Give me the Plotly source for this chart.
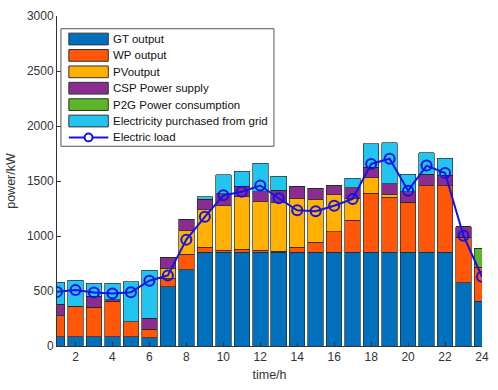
import plotly.graph_objects as go

hours = list(range(1, 25))
gt = [85, 85, 85, 85, 85, 75, 537, 691, 854, 854, 854, 854, 854, 854, 854, 854, 854, 854, 854, 854, 854, 854, 575, 405]
wp = [191, 277, 268, 324, 135, 79, 80, 142, 42, 15, 24, 15, 6, 42, 89, 184, 291, 534, 498, 451, 605, 605, 413, 309]
pv = [0, 0, 0, 0, 0, 0, 89, 214, 344, 406, 480, 445, 445, 447, 392, 335, 198, 142, 21, 0, 0, 0, 0, 0]
csp = [104, 0, 98, 12, 0, 98, 98, 104, 95, 107, 95, 89, 112, 104, 97, 86, 95, 95, 104, 98, 101, 92, 95, 0]
p2g = [0] * 23 + [170]
grid = [198, 237, 118, 148, 364, 438, 0, 0, 23, 175, 137, 258, 125, 0, 0, 0, 89, 214, 371, 157, 199, 157, 0, 0]
load = [492, 510, 486, 478, 489, 593, 641, 967, 1174, 1370, 1403, 1459, 1343, 1234, 1225, 1275, 1337, 1655, 1702, 1412, 1640, 1572, 1002, 629]

series = [
    ("GT output", gt, "#0070BC"),
    ("WP output", wp, "#FF5608"),
    ("PVoutput", pv, "#FFB000"),
    ("CSP Power supply", csp, "#8A2D8E"),
    ("P2G Power consumption", p2g, "#5DB52A"),
    ("Electricity purchased from grid", grid, "#22C4F0"),
]
load_name = "Electric load"
load_color = "#1414E6"

W, H = 498, 390
ML, MR, MT, MB = 57, 10, 9, 44
PW, PH = W - ML - MR, H - MT - MB


def px(xp):
    return (xp - ML) / PW


def py(yp):
    return (H - MB - yp) / PH


fig = go.Figure()
for name, vals, col in series:
    fig.add_trace(go.Bar(
        x=hours, y=vals, name=name, width=0.84,
        marker=dict(color=col, line=dict(color="rgba(40,40,40,0.85)", width=0.8)),
    ))
fig.add_trace(go.Scatter(
    x=hours, y=load, name=load_name, mode="lines+markers",
    line=dict(color=load_color, width=2),
    marker=dict(symbol="circle-open", size=10, color=load_color, line=dict(width=2)),
))

# Legend drawn in paper coordinates (MATLAB-style wide patches)
shapes = [dict(type="rect", xref="paper", yref="paper",
               x0=px(61), x1=px(277), y0=py(142), y1=py(22),
               fillcolor="white", line=dict(color="#555555", width=1), layer="above")]
annotations = []
row0, dy = 32.5, 16.75
names = [s[0] for s in series] + [load_name]
for i, name in enumerate(names):
    cy = row0 + dy * i
    if i < len(series):
        shapes.append(dict(type="rect", xref="paper", yref="paper",
                           x0=px(69), x1=px(109), y0=py(cy + 6), y1=py(cy - 6),
                           fillcolor=series[i][2], line=dict(color="#333333", width=1), layer="above"))
    else:
        shapes.append(dict(type="line", xref="paper", yref="paper",
                           x0=px(69), x1=px(109), y0=py(cy), y1=py(cy),
                           line=dict(color=load_color, width=2), layer="above"))
        shapes.append(dict(type="circle", xref="paper", yref="paper",
                           x0=px(85), x1=px(93), y0=py(cy + 4), y1=py(cy - 4),
                           fillcolor="white", line=dict(color=load_color, width=2), layer="above"))
    annotations.append(dict(xref="paper", yref="paper", x=px(112), y=py(cy),
                            xanchor="left", yanchor="middle", text=name, showarrow=False,
                            font=dict(size=11.5, color="#111111")))

fig.update_layout(
    barmode="stack",
    width=W, height=H,
    margin=dict(l=ML, r=MR, t=MT, b=MB),
    plot_bgcolor="white", paper_bgcolor="white",
    font=dict(family="Liberation Sans, Arial, sans-serif", size=12, color="#333333"),
    showlegend=False,
    shapes=shapes,
    annotations=annotations,
    bargap=0.16,
)
fig.update_xaxes(
    range=[1, 24], tickvals=list(range(2, 25, 2)),
    showline=True, linecolor="#333333", linewidth=1,
    ticks="inside", ticklen=4, tickcolor="#333333",
    showgrid=False, zeroline=False,
    title=dict(text="time/h", font=dict(size=12.5), standoff=6),
    tickfont=dict(size=12),
)
fig.update_yaxes(
    range=[0, 3000], tickvals=list(range(0, 3001, 500)),
    showline=True, linecolor="#333333", linewidth=1,
    ticks="inside", ticklen=4, tickcolor="#333333",
    showgrid=False, zeroline=False,
    title=dict(text="power/kW", font=dict(size=12.5), standoff=8),
    tickfont=dict(size=12),
)

fig.write_html("out.html", config={"displayModeBar": False},
               post_script="document.body.style.margin='0';")
